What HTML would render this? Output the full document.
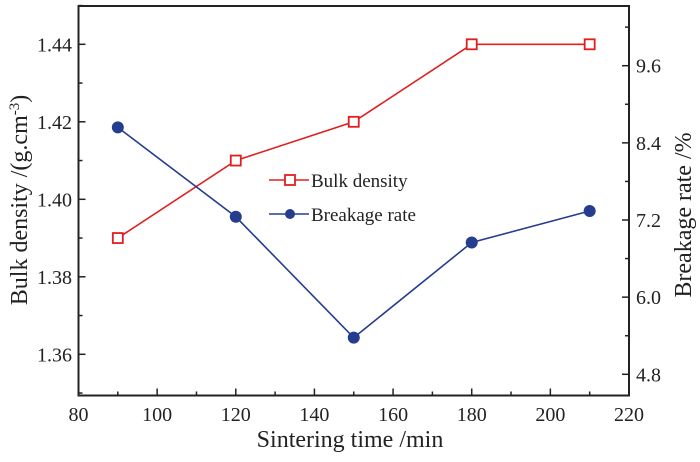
<!DOCTYPE html>
<html><head><meta charset="utf-8"><style>
body{margin:0;background:#fff;}
svg text{font-family:"Liberation Serif",serif;fill:#222;}
</style></head><body>
<svg id="chart" width="700" height="457"></svg>
<script>
const categories=[90,120,150,180,210];
const bulkDensity=[1.39,1.41,1.42,1.44,1.44];
const breakageRate=[8.64,7.25,5.37,6.85,7.34];
const xTicks=[80,100,120,140,160,180,200,220];
const yLeftTicks=["1.36","1.38","1.40","1.42","1.44"];
const yRightTicks=["4.8","6.0","7.2","8.4","9.6"];

const L=78.5,R=629,T=6,B=395.5;
const x=v=>L+(v-80)/140*(R-L);
const yl=v=>354.3-(v-1.36)/0.08*310;
const yr=v=>374.3-(v-4.8)/4.8*308.6;
const svg=document.getElementById('chart');
const NS='http://www.w3.org/2000/svg';
function mk(tag,attrs,parent){const e=document.createElementNS(NS,tag);for(const k in attrs)e.setAttribute(k,attrs[k]);(parent||svg).appendChild(e);return e;}

const frame=mk('rect',{x:L,y:T,width:R-L,height:B-T,fill:'none',stroke:'#222','stroke-width':2});



for(let v=80;v<=220;v+=10){
  const major=v%20===0;
  const t=mk('line',{x1:x(v),x2:x(v),y1:B,y2:B-(major?7:4),stroke:'#222','stroke-width':1.5});
  
  
}
xTicks.forEach(v=>{
  const t=mk('text',{x:x(v),y:421,'font-size':20,'text-anchor':'middle'});t.textContent=v;
  
  
});
for(let i=0;i<=10;i++){
  const v=1.35+i*0.01;const major=i%2===1;
  const t=mk('line',{x1:L,x2:L+(major?7:4),y1:yl(v),y2:yl(v),stroke:'#222','stroke-width':1.5});
  
  
}
yLeftTicks.forEach(s=>{
  const t=mk('text',{x:72,y:yl(parseFloat(s))+7,'font-size':20,'text-anchor':'end'});t.textContent=s;
  
  
});
for(let i=0;i<=9;i++){
  const v=4.8+i*0.6;if(yr(v)<T)continue;const major=i%2===0;
  const t=mk('line',{x1:R,x2:R-(major?7:4),y1:yr(v),y2:yr(v),stroke:'#222','stroke-width':1.5});
  
  
}
yRightTicks.forEach(s=>{
  const t=mk('text',{x:636,y:yr(parseFloat(s))+7,'font-size':20}); t.textContent=s;
  
  
});
let tt=mk('text',{x:350,y:447,'font-size':24,'text-anchor':'middle'});tt.textContent='Sintering time /min';


tt=mk('text',{x:0,y:0,'font-size':24,'text-anchor':'middle',transform:'translate(27,200) rotate(-90)'});
tt.innerHTML='Bulk density /(g.cm<tspan dy="-8" font-size="15">-3</tspan><tspan dy="8">)</tspan>';


tt=mk('text',{x:0,y:0,'font-size':24,'text-anchor':'middle',transform:'translate(691,215) rotate(-90)'});tt.textContent='Breakage rate /%';



const red='#e02020',blue='#253d8f';
let p=mk('polyline',{points:categories.map((c,i)=>x(c)+','+yl(bulkDensity[i])).join(' '),fill:'none',stroke:red,'stroke-width':1.6});


categories.forEach((c,i)=>{
  const m=mk('rect',{x:x(c)-5,y:yl(bulkDensity[i])-5,width:10,height:10,fill:'#fff',stroke:red,'stroke-width':1.8});
  
  
});
p=mk('polyline',{points:categories.map((c,i)=>x(c)+','+yr(breakageRate[i])).join(' '),fill:'none',stroke:blue,'stroke-width':1.6});


categories.forEach((c,i)=>{
  const m=mk('circle',{cx:x(c),cy:yr(breakageRate[i]),r:6,fill:blue});
  
  
});

const lg=mk('g',{});


let e=mk('line',{x1:269,x2:309,y1:180,y2:180,stroke:red,'stroke-width':1.6},lg);
e=mk('rect',{x:285,y:175,width:10,height:10,fill:'#fff',stroke:red,'stroke-width':1.8},lg);


e=mk('text',{x:311,y:187,'font-size':19},lg);e.textContent='Bulk density';


e=mk('line',{x1:269,x2:309,y1:214,y2:214,stroke:blue,'stroke-width':1.6},lg);
e=mk('circle',{cx:290,cy:214,r:5,fill:blue},lg);


e=mk('text',{x:311,y:221,'font-size':19},lg);e.textContent='Breakage rate';


</script>
</body></html>
